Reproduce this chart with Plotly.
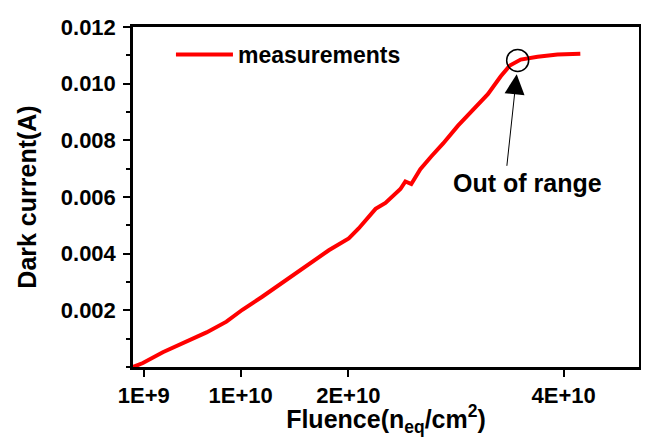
import plotly.graph_objects as go

# Data (fluence in n_eq/cm^2, dark current in A)
fluence = [0.000e10, 0.092e10, 0.277e10, 0.499e10, 0.683e10, 0.868e10, 1.016e10, 1.200e10,
           1.385e10, 1.607e10, 1.819e10, 2.004e10, 2.096e10, 2.253e10, 2.345e10, 2.484e10,
           2.530e10, 2.585e10, 2.669e10, 2.770e10, 2.881e10, 3.019e10, 3.158e10, 3.296e10,
           3.416e10, 3.500e10, 3.601e10, 3.758e10, 3.943e10, 4.155e10]
dark_current = [0.00000, 0.00014, 0.00052, 0.00091, 0.00122, 0.00160, 0.00202, 0.00248,
                0.00297, 0.00360, 0.00412, 0.00454, 0.00489, 0.00558, 0.00579, 0.00628,
                0.00655, 0.00646, 0.00698, 0.00743, 0.00789, 0.00852, 0.00907, 0.00963,
                0.01026, 0.01064, 0.01085, 0.01095, 0.01103, 0.01106]

x_tickvals = [1e9, 1e10, 2e10, 4e10]
x_ticktext = ["1E+9", "1E+10", "2E+10", "4E+10"]
y_tickvals = [0.002, 0.004, 0.006, 0.008, 0.010, 0.012]
y_ticktext = ["0.002", "0.004", "0.006", "0.008", "0.010", "0.012"]

out_of_range_point = (3.573e10, 0.01082)
arrow_tip = (3.564e10, 0.01033)
label_pos = (3.666e10, 0.00649)

FONT = "Liberation Sans, Arial, sans-serif"

fig = go.Figure()
fig.add_trace(go.Scatter(
    x=fluence, y=dark_current, mode="lines", name="<b>measurements</b>",
    line=dict(color="#ff0000", width=4),
))

fig.add_shape(type="circle", xref="x", yref="y", xsizemode="pixel", ysizemode="pixel",
              xanchor=out_of_range_point[0], yanchor=out_of_range_point[1],
              x0=-11, x1=11, y0=-11, y1=11,
              line=dict(color="black", width=1.5))

fig.add_annotation(x=arrow_tip[0], y=arrow_tip[1], xref="x", yref="y", text="",
                   showarrow=True, arrowhead=2, arrowsize=4, arrowwidth=1,
                   arrowcolor="black", ax=-10, ay=93, standoff=0)
fig.add_annotation(x=label_pos[0], y=label_pos[1], xref="x", yref="y",
                   text="<b>Out of range</b>", showarrow=False,
                   font=dict(family=FONT, size=25, color="black"))

axis_common = dict(
    showline=True, linecolor="black", linewidth=2.5, mirror=True,
    ticks="outside", ticklen=7, tickwidth=2, tickcolor="black",
    showgrid=False, zeroline=False,
    tickfont=dict(family=FONT, size=22, color="black"),
)

fig.update_xaxes(**axis_common, range=[0, 4.7e10], tickmode="array",
                 tickvals=x_tickvals, ticktext=[f"<b>{t}</b>" for t in x_ticktext],
                 title=dict(text="<b>Fluence(n<sub>eq</sub>/cm<sup>2</sup>)</b>",
                            font=dict(family=FONT, size=25, color="black"), standoff=4))
fig.update_yaxes(**axis_common, range=[0, 0.012], tickmode="array",
                 tickvals=y_tickvals, ticktext=[f"<b>{t}</b>" for t in y_ticktext],
                 ticklabelstandoff=3,
                 minor=dict(ticks="outside", ticklen=4, tickwidth=2, tickcolor="black",
                            dtick=0.001, showgrid=False),
                 title=dict(text="<b>Dark current(A)</b>",
                            font=dict(family=FONT, size=25, color="black"), standoff=18))

fig.update_layout(
    width=641, height=429,
    margin=dict(l=125, r=7, t=16, b=69),
    paper_bgcolor="white", plot_bgcolor="white",
    showlegend=True,
    legend=dict(x=0.075, y=0.919, xanchor="left", yanchor="middle",
                bgcolor="rgba(0,0,0,0)", itemwidth=57,
                font=dict(family=FONT, size=23, color="black")),
)

fig.write_html("out.html")
